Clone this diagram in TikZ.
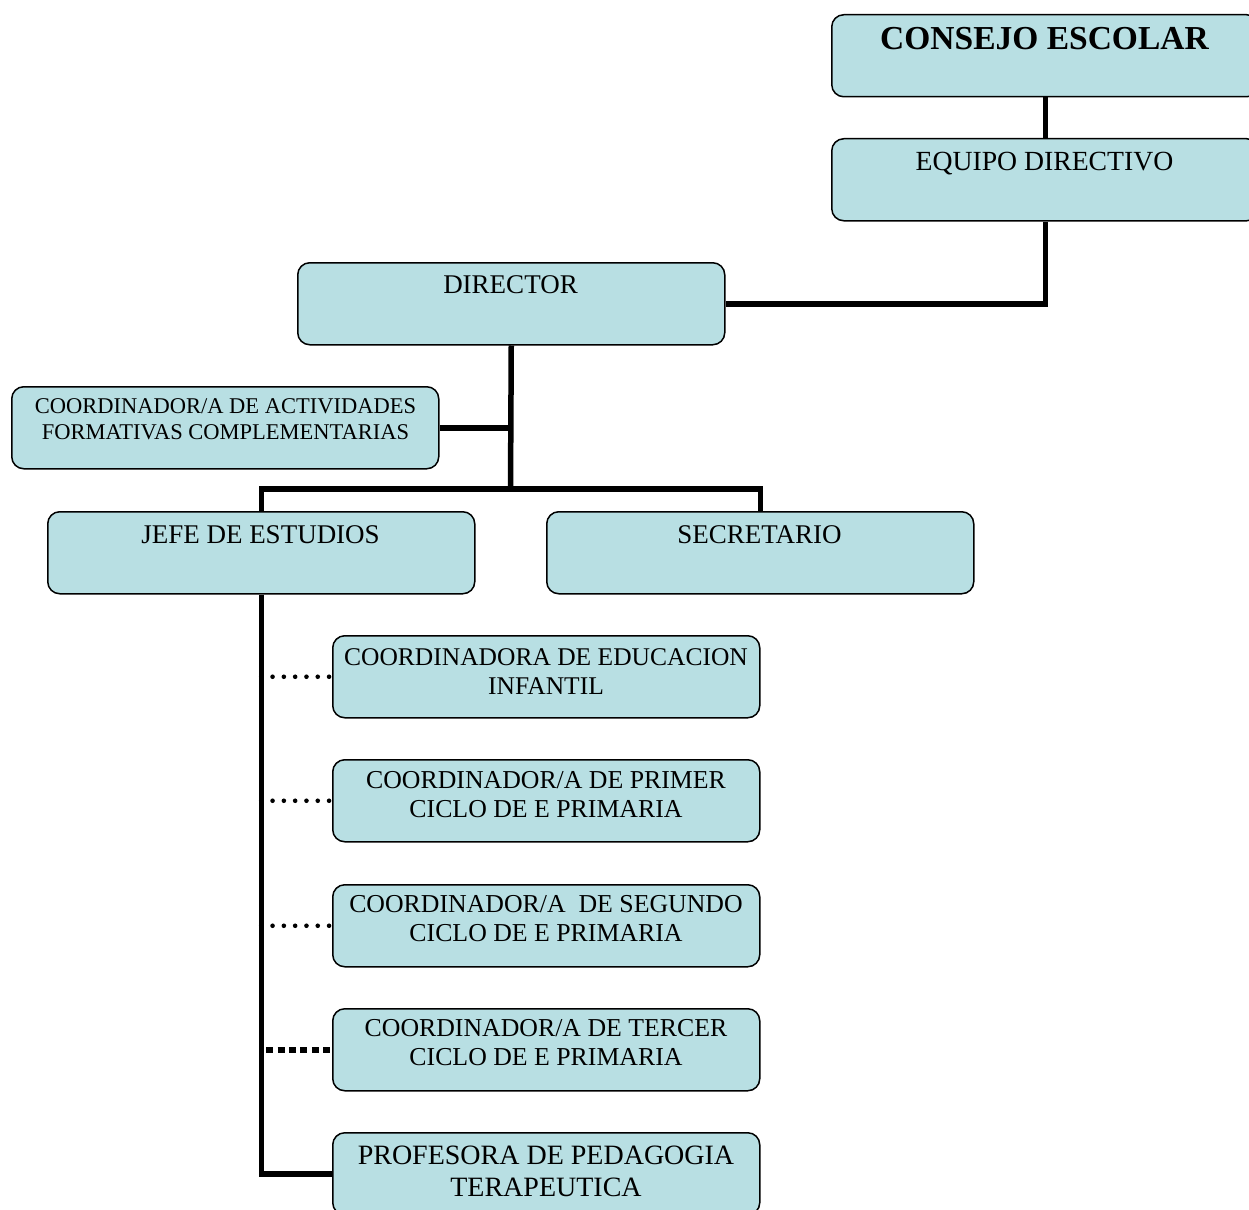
\documentclass[tikz,border=0pt]{standalone}
\usepackage{fontspec}
\setmainfont{Liberation Serif}
\definecolor{boxblue}{RGB}{184,223,227}
\begin{document}
\begin{tikzpicture}[x=1pt,y=-1pt,
  box/.style={draw=black,line width=1.5pt,fill=boxblue,rounded corners=12pt,
    minimum width=427pt,minimum height=82pt,inner sep=0pt,anchor=north west},
  lbl/.style={inner sep=0pt,anchor=north,align=center},
  conn/.style={line width=5.5pt},
  dotc/.style={line width=4.6pt,line cap=round,dash pattern=on 0pt off 11.3pt},
  sqc/.style={line width=5.5pt,dash pattern=on 7pt off 4.4pt,shorten <=5pt}]
\useasboundingbox (0,0) rectangle (1249,1209);
\clip (0,0) rectangle (1249,1209);
% boxes
\node[box] (consejo) at (831,14) {};
\node[box] (equipo) at (831,138) {};
\node[box] (director) at (297,262) {};
\node[box] (actividades) at (11,386) {};
\node[box] (jefe) at (47,511) {};
\node[box] (secretario) at (546,511) {};
\node[box] (infantil) at (332,635) {};
\node[box] (primer) at (332,759) {};
\node[box] (segundo) at (332,884) {};
\node[box] (tercer) at (332,1008) {};
\node[box] (profesora) at (332,1132) {};
% labels
\node[lbl,font=\bfseries\fontsize{33.5}{38}\selectfont] (tconsejo) at (1044.5,27.5) {CONSEJO ESCOLAR};
\node[lbl,font=\fontsize{27.7}{31}\selectfont] (tequipo) at (1044.5,151.6) {EQUIPO DIRECTIVO};
\node[lbl,font=\fontsize{27}{31}\selectfont] (tdirector) at (510.5,275) {DIRECTOR};
\node[lbl,font=\fontsize{22.5}{25.5}\selectfont] (tactividades) at (225.5,398.5) {COORDINADOR/A DE ACTIVIDADES\\FORMATIVAS COMPLEMENTARIAS};
\node[lbl,font=\fontsize{27}{31}\selectfont] (tjefe) at (260.5,525) {JEFE DE ESTUDIOS};
\node[lbl,font=\fontsize{27}{31}\selectfont] (tsecretario) at (759.5,525) {SECRETARIO};
\node[lbl,font=\fontsize{25.5}{29}\selectfont] (tinfantil) at (546,648) {COORDINADORA DE EDUCACION\\INFANTIL};
\node[lbl,font=\fontsize{25.8}{29}\selectfont] (tprimer) at (546,771.5) {COORDINADOR/A DE PRIMER\\CICLO DE E PRIMARIA};
\node[lbl,font=\fontsize{25.8}{29}\selectfont] (tsegundo) at (546,895.5) {COORDINADOR/A~ DE SEGUNDO\\CICLO DE E PRIMARIA};
\node[lbl,font=\fontsize{25.8}{29}\selectfont] (ttercer) at (546,1019.5) {COORDINADOR/A DE TERCER\\CICLO DE E PRIMARIA};
\node[lbl,font=\fontsize{28}{32.5}\selectfont] (tprofesora) at (546,1145.5) {PROFESORA DE PEDAGOGIA\\TERAPEUTICA};
% connectors
\coordinate (split) at (510.5,489);
\draw[conn] (consejo.south) -- (equipo.north);
\draw[conn] (equipo.south) |- (director.east);
\draw[conn] (director.south) -- (split);
\draw[conn] (actividades.east) -- (actividades.east -| director.south);
\draw[conn] (jefe.north) |- (split) -| (secretario.north);
\draw[conn] (jefe.south) |- (profesora.west);
\draw[dotc] (jefe.south |- infantil.west) -- (infantil.west);
\draw[dotc] (jefe.south |- primer.west) -- (primer.west);
\draw[dotc] (jefe.south |- segundo.west) -- (segundo.west);
\draw[sqc] (jefe.south |- tercer.west) -- (tercer.west);
\end{tikzpicture}
\end{document}
